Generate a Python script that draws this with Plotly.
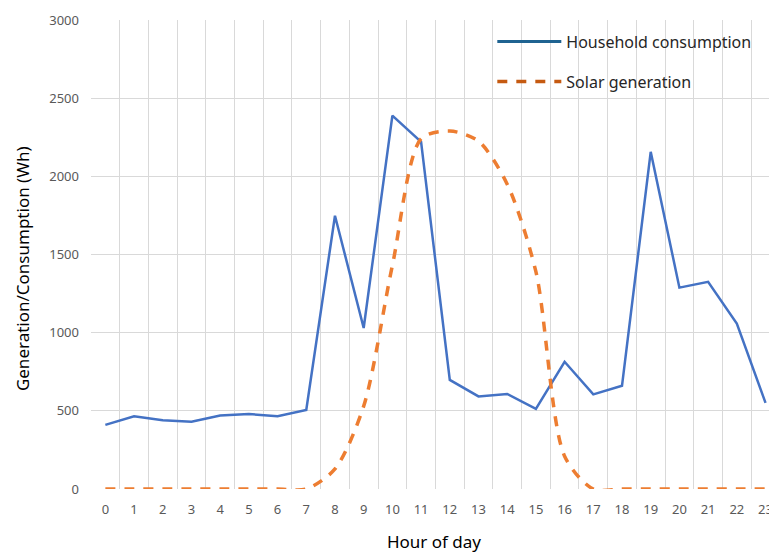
import plotly.graph_objects as go

hours = list(range(24))
hour_labels = [str(h) for h in hours]
household = [410, 465, 440, 430, 470, 480, 465, 505, 1748, 1030, 2388, 2220,
             698, 592, 608, 512, 814, 605, 660, 2157, 1288, 1325, 1058, 551]
solar = [0, 0, 0, 0, 0, 0, 0, 0, 128, 530, 1430, 2240,
         2290, 2225, 1950, 1390, 210, 0, 0, 0, 0, 0, 0, 0]
y_ticks = [0, 500, 1000, 1500, 2000, 2500, 3000]

FONT = "Noto Sans"
fig = go.Figure()

fig.add_trace(go.Scatter(
    x=hours, y=household, mode="lines", name="Household consumption",
    line=dict(color="#4472C4", width=2.5), showlegend=False))
fig.add_trace(go.Scatter(
    x=hours, y=solar, mode="lines", name="Solar generation",
    line=dict(color="#ED7D31", width=3.5, dash="10px,9px", shape="spline", smoothing=0.8),
    showlegend=False))

# legend entries (colours as shown in the reference legend)
fig.add_trace(go.Scatter(
    x=[None], y=[None], mode="lines", name="Household consumption",
    line=dict(color="#1F6391", width=3), legendgroup="a"))
fig.add_trace(go.Scatter(
    x=[None], y=[None], mode="lines", name="Solar generation",
    line=dict(color="#C55A11", width=3.5, dash="10px,9px"), legendgroup="b"))

# page body has an 8px margin: size the figure so it fits the 777x553 window
fig.update_layout(
    width=769, height=545,
    margin=dict(l=83, r=0, t=12, b=64, autoexpand=False),
    paper_bgcolor="white", plot_bgcolor="white",
    font=dict(family=FONT, color="#595959"),
    legend=dict(x=0.585, y=0.99, xanchor="left", yanchor="top",
                bgcolor="rgba(0,0,0,0)", itemwidth=64,
                font=dict(size=16, color="#262626", family=FONT),
                tracegroupgap=16),
    xaxis=dict(
        range=[-0.5, 23.4], tickmode="array", tickvals=hours, ticktext=hour_labels,
        showgrid=False, zeroline=False, showline=False, automargin=False,
        tickfont=dict(size=13, color="#595959"),
        ticks="", ticklabelstandoff=11, ticklabeloverflow="allow",
        minor=dict(tick0=0.5, dtick=1, showgrid=True, gridcolor="#D9D9D9", gridwidth=1),
        title=dict(text="Hour of day", font=dict(size=17, color="#000000"), standoff=22),
    ),
    yaxis=dict(
        range=[0, 3000], tickmode="array", tickvals=y_ticks,
        showgrid=True, gridcolor="#D9D9D9", gridwidth=1,
        zeroline=False, showline=False, automargin=False,
        tickfont=dict(size=13, color="#595959"), ticks="", ticklabelstandoff=11,
    ),
    annotations=[dict(
        text="Generation/Consumption (Wh)", textangle=-90,
        xref="paper", yref="paper", x=-0.1006, y=0.471,
        xanchor="center", yanchor="middle", showarrow=False,
        font=dict(size=17, color="#000000", family=FONT),
    )],
)

fig.write_html("out.html")
